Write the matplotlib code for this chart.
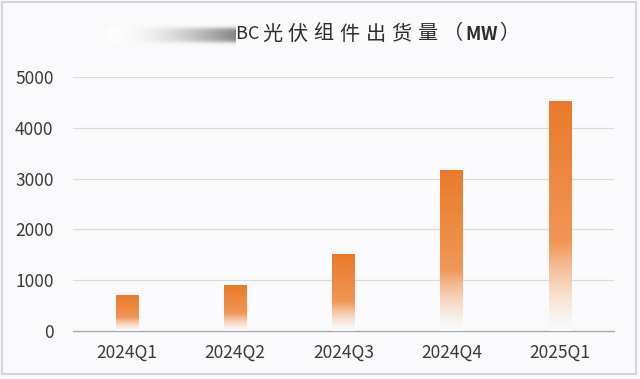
import numpy as np
import matplotlib.pyplot as plt
import matplotlib as mpl
from matplotlib.patches import Rectangle

plt.rcParams['font.family'] = ['Noto Sans CJK SC', 'DejaVu Sans']

quarters = ['2024Q1', '2024Q2', '2024Q3', '2024Q4', '2025Q1']
shipments = [700, 890, 1500, 3150, 4520]
y_ticks = [0, 1000, 2000, 3000, 4000, 5000]
title = 'BC光伏组件出货量（MW）'

bg = '#FAFAFC'
fig = plt.figure(figsize=(6.4, 3.79), dpi=100, facecolor=bg)
ax = fig.add_axes([73/640, 1 - 331/379, 541/640, 254/379])
ax.set_facecolor(bg)

# light frame round the picture
fig.patches.append(Rectangle((2/640, 5/379), 634/640, 372/379, transform=fig.transFigure,
                             fill=False, edgecolor='#D4D4DA', lw=1.5))

# gradient for bars: orange at top, lighter lower down, fading into the background
n = 512
t = np.linspace(0, 1, n)[:, None]   # 0 = bottom, 1 = top
top = np.array([234, 122, 42]) / 255
low = np.array([244, 178, 128]) / 255
bg_rgb = np.array(mpl.colors.to_rgb(bg))
rgb = low + (top - low) * t ** 0.8
a = np.clip(t / 0.38, 0, 1) ** 1.3
rgb = rgb * a + bg_rgb * (1 - a)
grad = rgb.reshape(n, 1, 3)

bar_w = 0.21
x = np.arange(len(quarters))
for xi, v in zip(x, shipments):
    ax.imshow(grad, extent=[xi - bar_w/2, xi + bar_w/2, 0, v], origin='lower',
              aspect='auto', interpolation='bilinear', zorder=3)

ax.set_xlim(-0.5, len(quarters) - 0.5)
ax.set_ylim(0, 5000)
ax.set_yticks(y_ticks)
ax.set_xticks(x)
ax.set_xticklabels(quarters)
ax.grid(axis='y', color='#DCDCDC', lw=0.9, zorder=0)
ax.tick_params(length=0, labelsize=12.5, colors='#3A3A3A', pad=14)
ax.tick_params(axis='x', pad=9)
for s in ['top', 'right', 'left']:
    ax.spines[s].set_visible(False)
ax.spines['bottom'].set_color('#AAAAAA')
ax.spines['bottom'].set_linewidth(1)

# blurred redaction strip before the title
w, h = 200, 30
sx = np.linspace(0, 1, w)[None, :]
sy = np.linspace(-1, 1, h)[:, None]
strip_rgba = np.zeros((h, w, 4))
strip_rgba[..., :3] = (1 - 0.48 * sx ** 1.8)[..., None]
strip_rgba[..., 3] = np.exp(-(sy / 0.6) ** 4)
sax = fig.add_axes([108/640, 1 - 48/379, 128/640, 26/379])
sax.imshow(strip_rgba, aspect='auto', interpolation='bilinear')
sax.axis('off')

# title with wide letter spacing (left edge of each glyph box)
char_x = [235, 248, 262, 287, 313, 339, 366, 391, 417, 443, 465, 481, 499]
for ch, cx in zip(title, char_x):
    latin = ch in 'BCMW'
    fig.text(cx/640, 1 - 34/379, ch, fontsize=13 if latin else 14.5, color='#2E2E2E',
             fontweight='bold' if ch in 'MW' else 'normal', ha='left', va='center')

plt.savefig('out.png', dpi=100, facecolor=bg)
